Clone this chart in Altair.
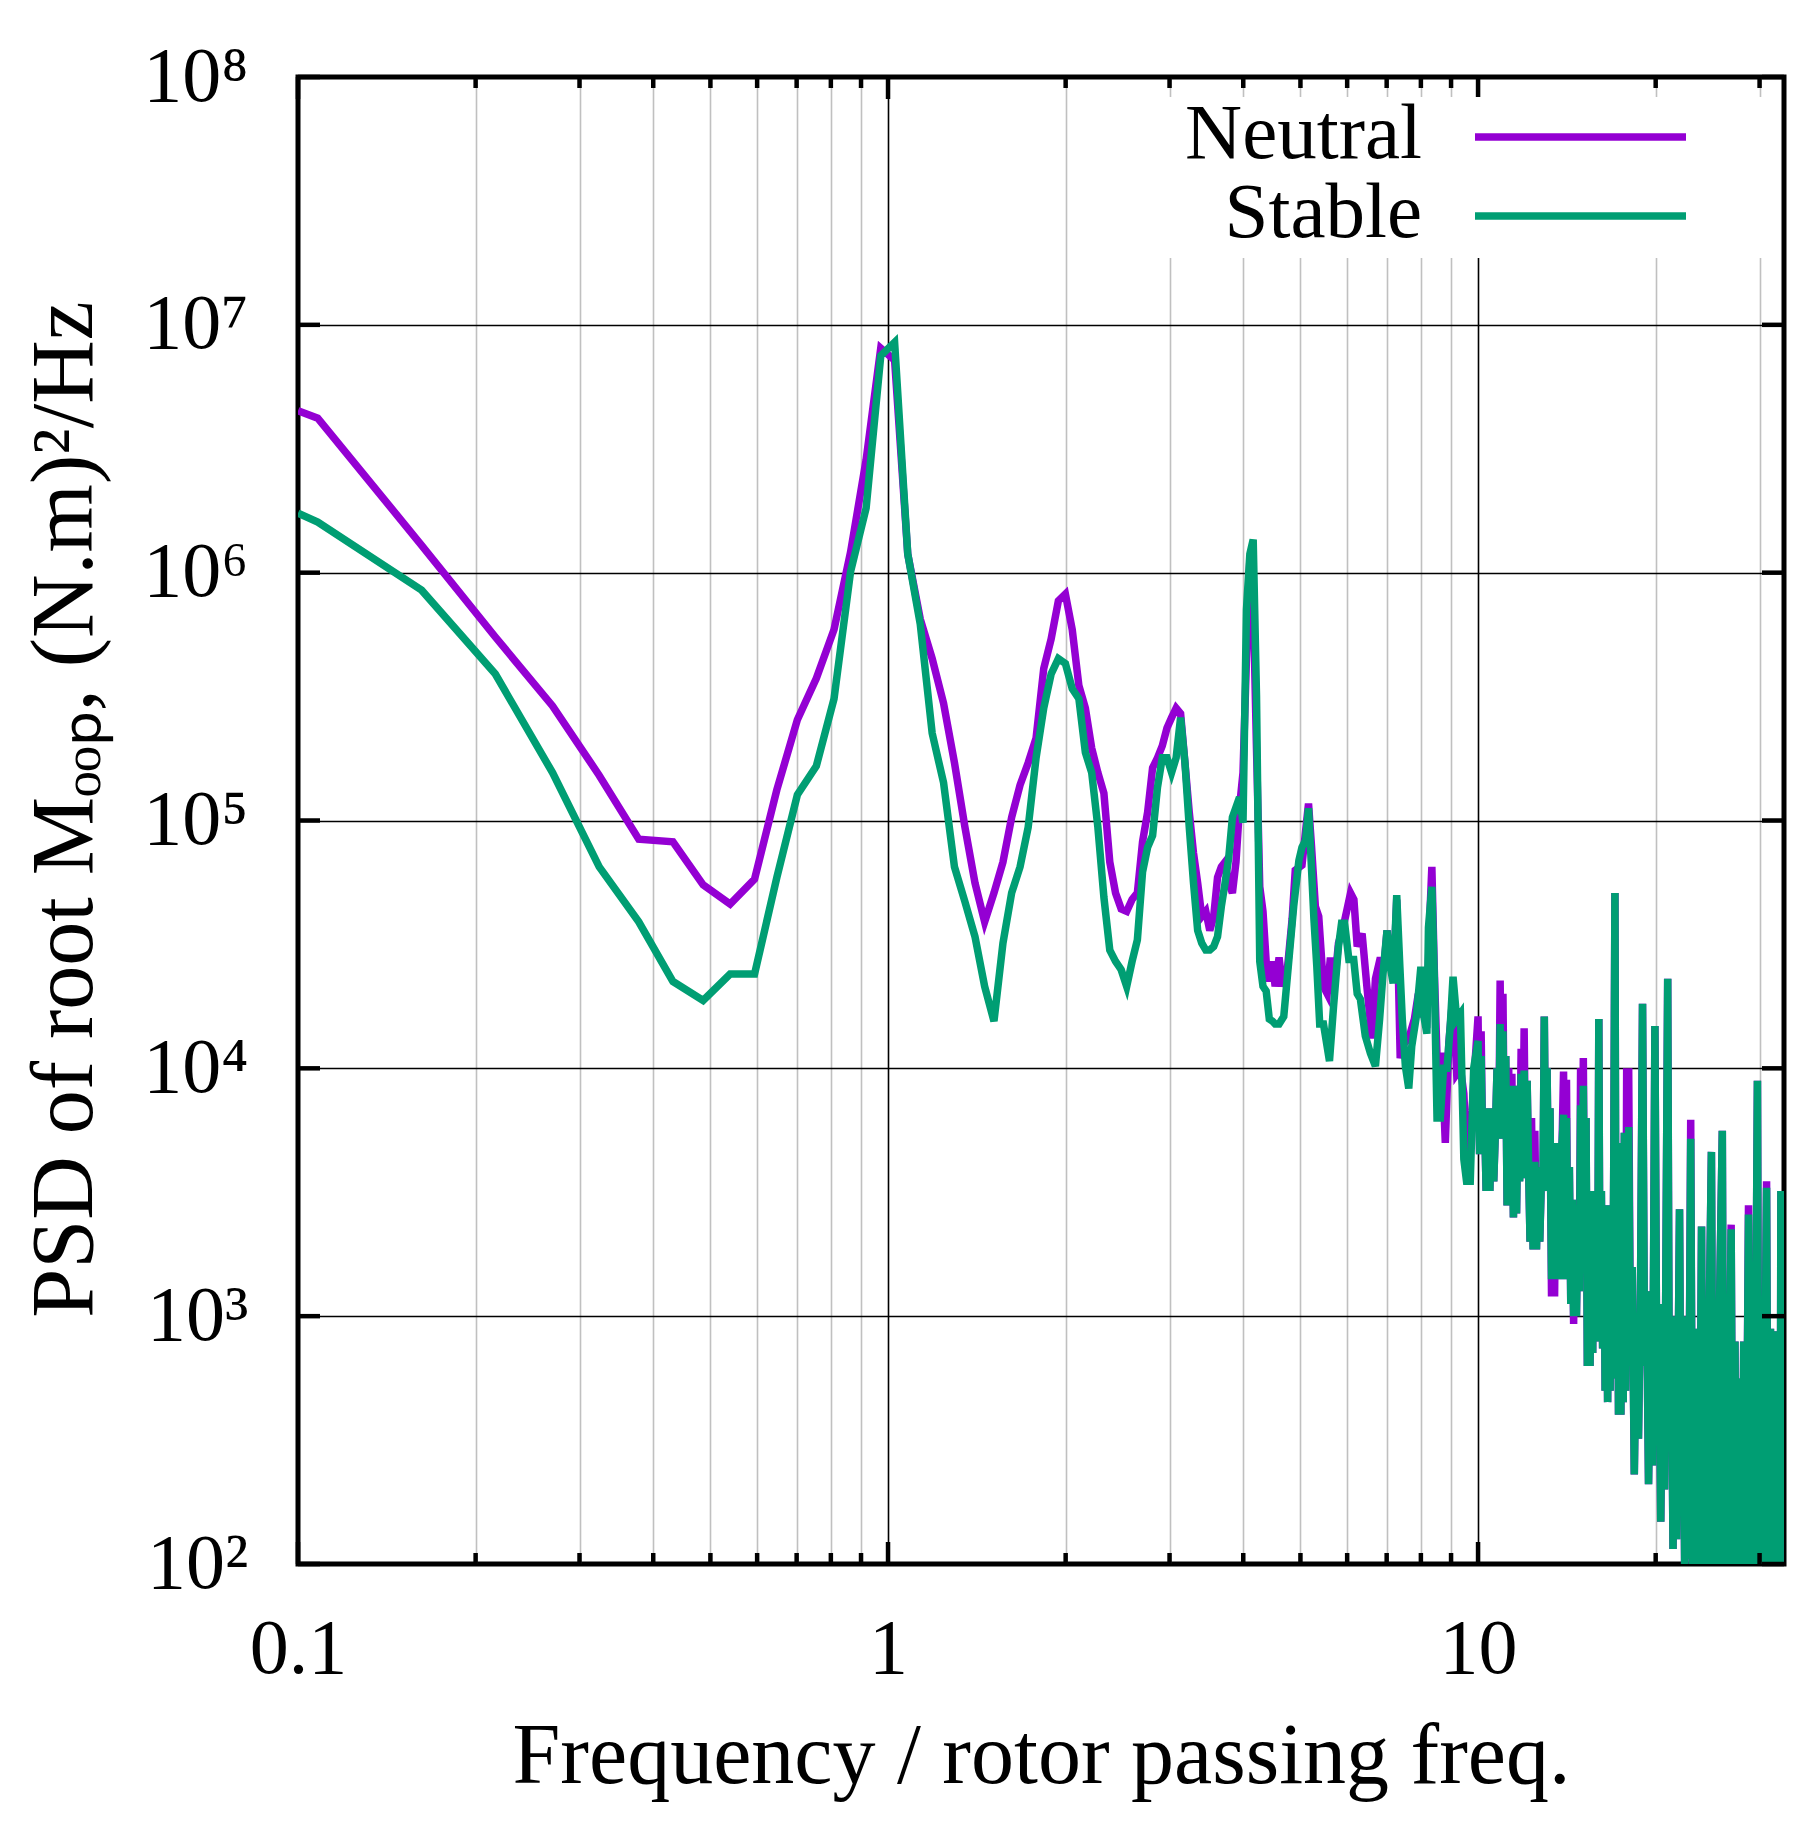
import altair as alt
import pandas as pd

# frequency bins below 4.5 (shared by both runs), read bin by bin
freq_low = [
    0.1, 0.108, 0.162, 0.216, 0.27, 0.324, 0.378, 0.432, 0.486, 0.54,
    0.594, 0.648, 0.702, 0.756, 0.81, 0.864, 0.918, 0.972, 1.026, 1.08,
    1.134, 1.188, 1.242, 1.296, 1.35, 1.404, 1.458, 1.512, 1.566, 1.62,
    1.674, 1.728, 1.782, 1.836, 1.89, 1.944, 1.998, 2.052, 2.106, 2.16,
    2.214, 2.268, 2.322, 2.376, 2.43, 2.484, 2.538, 2.592, 2.646, 2.7,
    2.754, 2.808, 2.862, 2.916, 2.97, 3.024, 3.078, 3.132, 3.186, 3.24,
    3.294, 3.348, 3.402, 3.456, 3.51, 3.564, 3.618, 3.672, 3.726, 3.78,
    3.834, 3.888, 3.942, 3.996, 4.05, 4.104, 4.158, 4.212, 4.266, 4.32,
    4.374, 4.428, 4.482,
]
neutral_low = [
    4.5e6, 4.2e6, 1.29e6, 5.5e5, 2.9e5, 1.52e5, 8.4e4, 8.2e4, 5.5e4, 4.6e4,
    5.8e4, 1.33e5, 2.55e5, 3.75e5, 5.9e5, 1.21e6, 2.85e6, 8.05e6, 7.2e6, 1.19e6,
    6.5e5, 4.5e5, 2.97e5, 1.71e5, 9.4e4, 5.6e4, 3.9e4, 5.1e4, 6.8e4, 1.03e5,
    1.39e5, 1.71e5, 2.15e5, 4.1e5, 5.4e5, 7.7e5, 8.2e5, 5.9e5, 3.5e5, 2.84e5,
    1.96e5, 1.56e5, 1.29e5, 6.8e4, 5.1e4, 4.4e4, 4.3e4, 4.8e4, 5.1e4, 8.2e4,
    1.08e5, 1.63e5, 1.79e5, 2.0e5, 2.36e5, 2.6e5, 2.84e5, 2.7e5, 1.71e5, 1.08e5,
    7.4e4, 5.6e4, 4.1e4, 4.3e4, 3.6e4, 4.1e4, 5.9e4, 6.5e4, 6.8e4, 5.6e4,
    5.1e4, 6.8e4, 1.13e5, 1.56e5, 4.5e5, 1.13e6, 7.9e5, 1.95e5, 5.4e4, 4.3e4,
    2.7e4, 2.24e4, 2.7e4,
]
stable_low = [
    1.74e6, 1.6e6, 8.5e5, 3.9e5, 1.56e5, 6.5e4, 3.9e4, 2.24e4, 1.88e4, 2.4e4,
    2.4e4, 5.9e4, 1.27e5, 1.66e5, 3.1e5, 1.01e6, 1.82e6, 7.5e6, 8.5e6, 1.19e6,
    6.2e5, 2.25e5, 1.42e5, 6.5e4, 4.7e4, 3.4e4, 2.14e4, 1.55e4, 3.2e4, 5.1e4,
    6.5e4, 9.4e4, 1.79e5, 2.84e5, 3.9e5, 4.5e5, 4.3e5, 3.4e5, 3.1e5, 1.88e5,
    1.56e5, 9.4e4, 4.9e4, 3.0e4, 2.7e4, 2.5e4, 2.14e4, 2.7e4, 3.3e4, 6.2e4,
    7.8e4, 8.7e4, 1.36e5, 1.79e5, 1.79e5, 1.56e5, 1.79e5, 2.6e5, 1.71e5, 9.4e4,
    5.6e4, 3.6e4, 3.2e4, 3.0e4, 3.0e4, 3.1e4, 3.4e4, 4.5e4, 5.6e4, 7.1e4,
    1.03e5, 1.13e5, 1.24e5, 9.8e4, 7.1e5, 1.19e6, 1.36e6, 3.2e5, 2.7e4, 2.14e4,
    2.05e4, 1.58e4, 1.55e4,
]

# 4.5 .. 10: peaks and dips read separately for each run
neutral_mid_freq = [
    4.53, 4.6, 4.66, 4.75, 4.84, 4.9, 5.03, 5.16, 5.22, 5.3,
    5.37, 5.47, 5.55, 5.62, 5.69, 5.8, 5.92, 6.0, 6.08, 6.16,
    6.24, 6.36, 6.48, 6.61, 6.7, 6.83, 6.92, 7.01, 7.1, 7.2,
    7.28, 7.38, 7.5, 7.63, 7.8, 7.92, 8.03, 8.19, 8.28, 8.35,
    8.43, 8.52, 8.68, 8.8, 8.92, 9.07, 9.2, 9.335, 9.46, 9.58,
    9.7, 9.83,
]
neutral_mid = [
    2.14e4, 2.8e4, 2.14e4, 2.5e4, 4.0e4, 6.3e4, 6.6e4, 1.17e5, 7.9e4, 4.5e4,
    4.1e4, 2.14e4, 2.0e4, 2.8e4, 2.0e4, 3.2e4, 3.8e4, 4.4e4, 5.1e4, 4.8e4,
    3.1e4, 3.5e4, 2.14e4, 1.32e4, 2.3e4, 2.8e4, 2.5e4, 3.6e4, 2.6e4, 2.5e4,
    4.8e4, 1.1e4, 1.26e4, 1.32e4, 1.58e4, 2.0e4, 1.66e4, 1.58e4, 4.0e4, 6.5e4,
    2.5e4, 1.12e4, 1.12e4, 5.0e3, 1.26e4, 2.0e4, 9.5e3, 1.0e4, 7.9e3, 4.0e3,
    5.0e3, 8.7e3,
]
stable_mid_freq = [
    4.53, 4.6, 4.685, 4.78, 4.87, 4.97, 5.03, 5.1, 5.16, 5.2,
    5.27, 5.33, 5.39, 5.47, 5.6, 5.69, 5.8, 5.87, 5.94, 6.04,
    6.155, 6.24, 6.318, 6.44, 6.57, 6.7, 6.81, 6.9, 7.01, 7.1,
    7.18, 7.28, 7.37, 7.44, 7.53, 7.63, 7.72, 7.86, 8.0, 8.08,
    8.19, 8.24, 8.35, 8.43, 8.52, 8.63, 8.74, 8.86, 8.97, 9.07,
    9.2, 9.335, 9.46, 9.56, 9.7, 9.83,
]
stable_mid = [
    1.51e4, 1.51e4, 1.62e4, 2.75e4, 4.5e4, 6.9e4, 7.8e4, 8.3e4, 1.12e5, 7.8e4,
    4.0e4, 2.57e4, 1.51e4, 1.51e4, 1.07e4, 1.78e4, 3.1e4, 3.85e4, 3.85e4, 2.75e4,
    2.75e4, 2.0e4, 1.9e4, 1.35e4, 1.15e4, 1.02e4, 1.58e4, 2.4e4, 3.6e4, 2.57e4,
    2.2e4, 5.0e4, 2.57e4, 1.58e4, 1.02e4, 8.3e3, 1.23e4, 1.62e4, 2.57e4, 1.66e4,
    1.38e4, 3.7e4, 5.4e4, 2.34e4, 6.3e3, 6.3e3, 1.0e4, 1.0e4, 1.48e4, 2.34e4,
    1.58e4, 1.66e4, 4.3e3, 3.5e3, 3.5e3, 1.0e4,
]

# 10 .. 33: dense harmonic spikes, band tops and dips
dense_freq = [
    10.0, 10.06, 10.12, 10.18, 10.25, 10.32, 10.4, 10.47, 10.55, 10.63,
    10.7, 10.77, 10.84, 10.9, 10.96, 11.02, 11.08, 11.14, 11.2, 11.27,
    11.34, 11.41, 11.48, 11.55, 11.62, 11.69, 11.76, 11.83, 11.9, 11.97,
    12.04, 12.11, 12.18, 12.25, 12.32, 12.4, 12.48, 12.56, 12.64, 12.72,
    12.8, 12.88, 12.95, 13.02, 13.09, 13.16, 13.24, 13.32, 13.4, 13.48,
    13.56, 13.64, 13.72, 13.8, 13.88, 13.96, 14.04, 14.12, 14.2, 14.28,
    14.36, 14.44, 14.52, 14.6, 14.68, 14.76, 14.84, 14.92, 15.0, 15.08,
    15.16, 15.24, 15.32, 15.4, 15.48, 15.56, 15.64, 15.72, 15.8, 15.88,
    15.95, 16.02, 16.1, 16.18, 16.26, 16.34, 16.42, 16.5, 16.58, 16.66,
    16.74, 16.82, 16.9, 16.98, 17.06, 17.14, 17.22, 17.3, 17.38, 17.46,
    17.54, 17.62, 17.7, 17.78, 17.86, 17.93, 18.0, 18.12, 18.25, 18.4,
    18.55, 18.7, 18.85, 19.0, 19.15, 19.3, 19.45, 19.6, 19.75, 19.94,
    20.1, 20.25, 20.4, 20.55, 20.7, 20.96, 21.1, 21.25, 21.4, 21.55,
    21.7, 21.95, 22.1, 22.25, 22.4, 22.55, 22.7, 22.93, 23.1, 23.25,
    23.4, 23.55, 23.7, 23.92, 24.1, 24.25, 24.4, 24.6, 24.86, 25.05,
    25.2, 25.4, 25.6, 25.94, 26.1, 26.3, 26.5, 26.7, 26.85, 27.05,
    27.25, 27.45, 27.8, 28.0, 28.2, 28.4, 28.73, 28.95, 29.15, 29.35,
    29.75, 29.95, 30.2, 30.4, 30.83, 31.05, 31.3, 31.5, 31.84, 32.05,
    32.3, 32.5, 32.6, 32.8, 33.0,
]
neutral_dense = [
    1.62e4, 4.5e3, 1.41e4, 5.0e3, 6.9e3, 3.2e3, 6.3e3, 3.2e3, 6.9e3, 3.5e3,
    5.6e3, 1.0e4, 5.2e3, 2.26e4, 5.6e3, 2.0e4, 5.2e3, 1.12e4, 2.8e3, 1.0e4,
    2.8e3, 9.5e3, 2.5e3, 8.5e3, 2.6e3, 7.1e3, 3.5e3, 1.2e4, 3.6e3, 1.45e4,
    3.8e3, 8.9e3, 4.0e3, 2.0e3, 6.3e3, 1.86e3, 5.6e3, 1.86e3, 4.0e3, 2.0e3,
    3.5e3, 3.2e3, 1.62e4, 3.5e3, 1.0e4, 3.2e3, 6.9e3, 1.2e3, 5.0e3, 1.2e3,
    5.0e3, 1.58e3, 4.5e3, 1.41e3, 5.0e3, 9.7e3, 1.58e3, 9.0e3, 1.41e3, 4.0e3,
    1.12e3, 2.95e3, 9.3e2, 2.8e3, 1.0e3, 2.5e3, 1.26e3, 1.0e4, 2.0e3, 1.1e4,
    1.82e3, 6.3e3, 6.3e2, 3.2e3, 6.3e2, 2.5e3, 7.1e2, 3.2e3, 7.9e2, 3.2e3,
    1.0e3, 1.58e4, 7.9e2, 3.2e3, 7.4e2, 2.8e3, 5.0e2, 2.5e3, 4.5e2, 2.8e3,
    5.0e2, 2.0e3, 6.3e2, 4.0e3, 5.1e4, 5.6e2, 4.0e3, 4.0e2, 5.0e3, 4.0e2,
    3.2e3, 4.5e2, 5.5e3, 5.0e2, 1.0e4, 6.3e2, 1.0e4, 7.9e2, 1.58e3, 2.3e2,
    1.0e3, 3.2e2, 1.26e3, 1.82e4, 6.3e2, 1.26e3, 2.1e2, 7.9e2, 2.5e2, 1.48e4,
    4.0e2, 1.12e3, 1.48e2, 7.9e2, 2.0e2, 2.3e4, 3.2e2, 1.0e3, 1.15e2, 7.9e2,
    1.26e2, 2.7e3, 1.58e2, 1.0e3, 8.9e1, 6.3e2, 1.05e2, 6.2e3, 1.0e2, 8.9e2,
    7.9e1, 6.3e2, 8.9e1, 2.3e3, 7.9e1, 7.9e2, 7.1e1, 7.1e2, 4.6e3, 7.9e1,
    7.9e2, 7.1e1, 7.9e2, 5.6e3, 7.9e1, 8.9e2, 6.3e1, 7.1e2, 2.34e3, 7.1e1,
    7.9e2, 6.3e1, 5.6e2, 6.3e1, 7.9e2, 6.3e1, 2.8e3, 6.3e1, 7.9e2, 6.3e1,
    8.9e3, 6.3e1, 1.0e3, 6.3e1, 3.5e3, 6.3e1, 8.9e2, 6.3e1, 8.7e2, 6.3e1,
    7.9e2, 6.3e1, 3.2e3, 7.9e2, 9.0e2,
]
stable_dense = [
    1.29e4, 4.5e3, 1.12e4, 5.0e3, 6.9e3, 3.2e3, 6.3e3, 3.2e3, 6.9e3, 3.5e3,
    5.6e3, 1.0e4, 5.2e3, 1.51e4, 5.6e3, 1.41e4, 5.2e3, 1.12e4, 2.8e3, 8.5e3,
    2.8e3, 7.9e3, 2.5e3, 8.5e3, 2.6e3, 7.1e3, 3.5e3, 9.5e3, 3.6e3, 9.8e3,
    3.8e3, 8.9e3, 4.0e3, 2.0e3, 4.0e3, 1.86e3, 4.2e3, 1.86e3, 4.0e3, 2.0e3,
    3.5e3, 3.2e3, 1.62e4, 3.5e3, 1.0e4, 3.2e3, 6.9e3, 1.41e3, 5.0e3, 1.41e3,
    5.0e3, 1.58e3, 4.5e3, 1.41e3, 5.0e3, 6.5e3, 1.58e3, 6.3e3, 1.41e3, 4.0e3,
    1.12e3, 2.95e3, 1.0e3, 2.8e3, 1.0e3, 2.5e3, 1.26e3, 7.1e3, 2.0e3, 8.5e3,
    1.82e3, 6.3e3, 6.3e2, 3.2e3, 6.3e2, 2.5e3, 7.1e2, 3.2e3, 7.9e2, 3.2e3,
    1.0e3, 1.58e4, 7.9e2, 3.2e3, 7.4e2, 2.8e3, 5.0e2, 2.5e3, 4.5e2, 2.8e3,
    5.0e2, 2.0e3, 6.3e2, 4.0e3, 5.1e4, 5.6e2, 4.0e3, 4.0e2, 5.0e3, 4.0e2,
    3.2e3, 4.5e2, 5.5e3, 5.0e2, 3.2e3, 6.3e2, 5.8e3, 7.9e2, 1.58e3, 2.3e2,
    1.0e3, 3.2e2, 1.26e3, 1.82e4, 6.3e2, 1.26e3, 2.1e2, 7.9e2, 2.5e2, 1.48e4,
    4.0e2, 1.12e3, 1.48e2, 7.9e2, 2.0e2, 2.3e4, 3.2e2, 1.0e3, 1.15e2, 7.9e2,
    1.26e2, 2.7e3, 1.58e2, 1.0e3, 8.9e1, 6.3e2, 1.05e2, 5.2e3, 1.0e2, 8.9e2,
    7.9e1, 6.3e2, 8.9e1, 2.3e3, 7.9e1, 7.9e2, 7.1e1, 7.1e2, 4.6e3, 7.9e1,
    7.9e2, 7.1e1, 7.9e2, 5.6e3, 7.9e1, 8.9e2, 6.3e1, 7.1e2, 2.24e3, 7.1e1,
    7.9e2, 6.3e1, 5.6e2, 6.3e1, 7.9e2, 6.3e1, 2.57e3, 6.3e1, 7.9e2, 6.3e1,
    8.9e3, 6.3e1, 1.0e3, 6.3e1, 3.3e3, 6.3e1, 8.9e2, 6.3e1, 8.7e2, 6.3e1,
    7.9e2, 6.3e1, 3.2e3, 7.9e2, 9.0e2,
]

# axes: decades get black grid + long ticks, the rest grey grid + short ticks
x_major = [0.1, 1, 10]
x_minor = [0.2, 0.3, 0.4, 0.5, 0.6, 0.7, 0.8, 0.9,
           2, 3, 4, 5, 6, 7, 8, 9, 20, 30]
y_major = [1e2, 1e3, 1e4, 1e5, 1e6, 1e7, 1e8]
y_labels = ["10²", "10³", "10⁴", "10⁵", "10⁶", "10⁷", "10⁸"]
runs = ["Neutral", "Stable"]

W, H = 1486, 1487
FONT = "Liberation Serif"
PURPLE, GREEN = "#9400d3", "#009e73"
LW = 7.5

neutral = pd.DataFrame({
    "freq": freq_low + neutral_mid_freq + dense_freq,
    "psd": neutral_low + neutral_mid + neutral_dense,
    "run": "Neutral",
})
stable = pd.DataFrame({
    "freq": freq_low + stable_mid_freq + dense_freq,
    "psd": stable_low + stable_mid + stable_dense,
    "run": "Stable",
})

x_scale = alt.Scale(type="log", domain=[0.1, 33], nice=False)
y_scale = alt.Scale(type="log", domain=[1e2, 1e8], nice=False)
color_scale = alt.Scale(domain=runs, range=[PURPLE, GREEN])

major_test = "indexof([0.1, 1, 10], datum.value) >= 0"
x_axis = alt.Axis(
    values=sorted(x_major + x_minor), grid=True, ticks=False, domain=False,
    gridColor={"condition": {"test": major_test, "value": "black"}, "value": "#c0c0c0"},
    gridWidth=1.6,
    labelExpr=major_test + " ? format(datum.value, '~g') : ''",
    labelFont=FONT, labelFontSize=78, labelColor="black", labelPadding=46,
    labelFlush=False, labelOverlap=False,
    title="Frequency / rotor passing freq.", titleFont=FONT, titleFontSize=86,
    titleFontWeight="normal", titleColor="black",
    titleBaseline="alphabetic", titleY=218,
)
y_axis = alt.Axis(
    values=y_major, grid=True, ticks=False, domain=False,
    gridColor="black", gridWidth=1.6,
    labelExpr="[" + ", ".join(f"'{s}'" for s in y_labels) + "][round(log(datum.value) / LN10) - 2]",
    labelFont=FONT, labelFontSize=78, labelColor="black", labelPadding=50,
    labelFlush=False, labelOverlap=False,
    title="PSD of root Mₒₒₚ,  (N.m)²/Hz", titleFont=FONT, titleFontSize=88,
    titleFontWeight="normal", titleColor="black", titleAngle=270,
    titleBaseline="alphabetic", titleAlign="center", titleX=-207, titleY=732,
)

x_enc = alt.X("freq:Q", scale=x_scale, axis=x_axis)
y_enc = alt.Y("psd:Q", scale=y_scale, axis=y_axis)
color = alt.Color("run:N", scale=color_scale, legend=None)


def psd_line(df):
    return alt.Chart(df).mark_line(strokeWidth=LW, clip=True).encode(x=x_enc, y=y_enc, color=color)


# inward tick marks on all four sides (same axis definitions so the axes stay shared)
def x_ticks(values, length):
    base = alt.Chart(pd.DataFrame({"freq": values})).mark_rule(color="black", strokeWidth=4.5)
    return [base.encode(x=x_enc, y=alt.value(H), y2=alt.value(H - length)),
            base.encode(x=x_enc, y=alt.value(0), y2=alt.value(length))]


def y_ticks(values, length):
    base = alt.Chart(pd.DataFrame({"psd": values})).mark_rule(color="black", strokeWidth=4.5)
    return [base.encode(y=y_enc, x=alt.value(0), x2=alt.value(length)),
            base.encode(y=y_enc, x=alt.value(W), x2=alt.value(W - length))]


# key in the top-right corner: white box, right-aligned names, line samples
key = pd.DataFrame({"run": runs})
key_layers = [
    alt.Chart(key.head(1)).mark_rect(color="white").encode(
        x=alt.value(862), x2=alt.value(1477), y=alt.value(20), y2=alt.value(181)),
]
for i, name in enumerate(runs):
    row = key[key["run"] == name]
    y_line = 60 + 79 * i
    key_layers.append(alt.Chart(row).mark_rule(strokeWidth=LW).encode(
        x=alt.value(1177), x2=alt.value(1388), y=alt.value(y_line), color=color))
    key_layers.append(alt.Chart(row).mark_text(
        align="right", baseline="alphabetic", font=FONT, fontSize=79, color="black").encode(
        x=alt.value(1124), y=alt.value(y_line + 21), text="run:N"))

chart = alt.layer(
    psd_line(neutral), psd_line(stable),
    *x_ticks(x_major, 22), *x_ticks(x_minor, 11), *y_ticks(y_major, 22),
    *key_layers,
).properties(
    width=W, height=H,
    autosize=alt.AutoSizeParams(type="none"),
    padding={"left": 290, "top": 69, "right": 10, "bottom": 250},
).configure(font=FONT).configure_view(stroke="black", strokeWidth=5)

chart.save("out.html", embed_options={"renderer": "svg", "actions": False})
